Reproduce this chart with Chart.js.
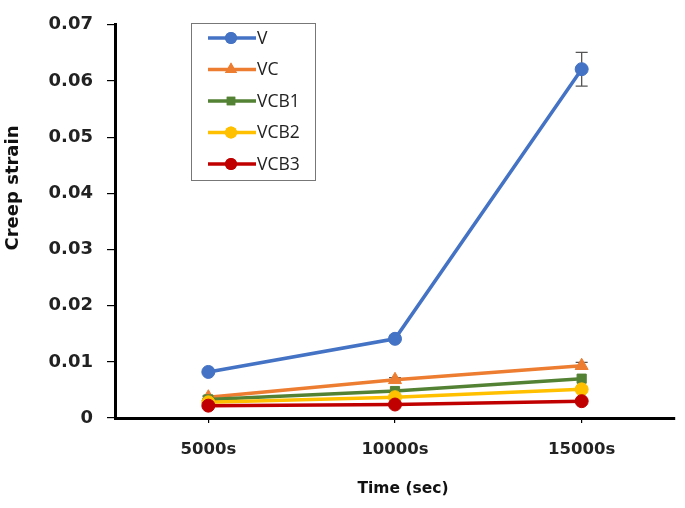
<!DOCTYPE html>
<html>
<head>
<meta charset="utf-8">
<script src="https://cdn.jsdelivr.net/npm/chart.js@4.4.0/dist/chart.umd.min.js"></script>
<style>
  html, body { margin: 0; padding: 0; background: #fff; }
  #wrap { width: 685px; height: 508px; }
</style>
</head>
<body>
<div id="wrap"><canvas id="creepChart"></canvas></div>
<script>
// data
const times = ['5000s', '10000s', '15000s'];
const seriesNames = ['V', 'VC', 'VCB1', 'VCB2', 'VCB3'];
const vValues    = [0.0082, 0.0141, 0.0621];
const vcValues   = [0.0037, 0.0068, 0.0093];
const vcb1Values = [0.0033, 0.0048, 0.0070];
const vcb2Values = [0.0028, 0.0037, 0.0051];
const vcb3Values = [0.0022, 0.0024, 0.0030];
const vErrors    = [0.0003, 0.0003, 0.0030];
const vcErrors   = [0.0002, 0.0004, 0.0006];
const yTicks = [0, 0.01, 0.02, 0.03, 0.04, 0.05, 0.06, 0.07];
const xTitle = 'Time (sec)';
const yTitle = 'Creep strain';

const colors = ['#4472C4', '#ED7D31', '#548235', '#FFC000', '#C00000'];
const markers = ['circle', 'triangle', 'rect', 'circle', 'circle'];
const allValues = [vValues, vcValues, vcb1Values, vcb2Values, vcb3Values];
const allErrors = [vErrors, vcErrors, null, null, null];

const datasets = seriesNames.map((name, i) => ({
    label: name,
    data: allValues[i],
    errors: allErrors[i],
    borderColor: colors[i],
    backgroundColor: colors[i],
    borderWidth: 3.5,
    pointStyle: markers[i],
    pointRadius: markers[i] === 'triangle' ? 7.5 : 6.5,
    pointBorderWidth: 1,
    tension: 0,
    order: 5 - i
}));

// error bars drawn from the scales
const errorBars = {
    id: 'errorBars',
    beforeDatasetsDraw(chart) {
        const ctx = chart.ctx;
        const y = chart.scales.y;
        chart.data.datasets.forEach((ds, di) => {
            if (!ds.errors) return;
            const meta = chart.getDatasetMeta(di);
            meta.data.forEach((pt, j) => {
                const v = ds.data[j];
                const e = ds.errors[j];
                const top = y.getPixelForValue(v + e);
                const bot = y.getPixelForValue(v - e);
                ctx.save();
                ctx.strokeStyle = '#555';
                ctx.lineWidth = 1.3;
                ctx.beginPath();
                ctx.moveTo(pt.x, top); ctx.lineTo(pt.x, bot);
                ctx.moveTo(pt.x - 6, top); ctx.lineTo(pt.x + 6, top);
                ctx.moveTo(pt.x - 6, bot); ctx.lineTo(pt.x + 6, bot);
                ctx.stroke();
                ctx.restore();
            });
        });
    }
};

// axis titles, placed where the original has them (slightly off-centre)
const axisTitles = {
    id: 'axisTitles',
    afterDraw(chart) {
        const ctx = chart.ctx;
        ctx.save();
        ctx.fillStyle = '#111';
        ctx.textAlign = 'center';
        ctx.textBaseline = 'middle';
        ctx.font = 'bold 15.5px "DejaVu Sans", sans-serif';
        ctx.fillText(xTitle, 403, 489);
        ctx.translate(13, 188);
        ctx.rotate(-Math.PI / 2);
        ctx.font = 'bold 18px "DejaVu Sans", sans-serif';
        ctx.fillText(yTitle, 0, 0);
        ctx.restore();
    }
};

// legend box inside the plot, like the original
const boxLegend = {
    id: 'boxLegend',
    afterDraw(chart) {
        const ctx = chart.ctx;
        const bx = 191, by = 23, bw = 124, bh = 157;
        ctx.save();
        ctx.fillStyle = '#fff';
        ctx.fillRect(bx, by, bw, bh);
        ctx.strokeStyle = '#777';
        ctx.lineWidth = 1;
        ctx.strokeRect(bx + 0.5, by + 0.5, bw, bh);
        chart.data.datasets.forEach((ds, i) => {
            const rowY = 38 + i * 31.5;
            ctx.strokeStyle = ds.borderColor;
            ctx.lineWidth = 3.5;
            ctx.beginPath();
            ctx.moveTo(208, rowY);
            ctx.lineTo(256, rowY);
            ctx.stroke();
            ctx.fillStyle = ds.backgroundColor;
            const r = ds.pointStyle === 'triangle' ? 7 : 6;
            Chart.helpers.drawPoint(ctx, {pointStyle: ds.pointStyle, radius: r, borderWidth: 0}, 231, rowY);
            ctx.fill();
            ctx.fillStyle = '#222';
            ctx.font = '17.5px "Open Sans", sans-serif';
            ctx.textBaseline = 'middle';
            ctx.textAlign = 'left';
            ctx.fillText(ds.label, 257, rowY + 1);
        });
        ctx.restore();
    }
};

new Chart(document.getElementById('creepChart'), {
    type: 'line',
    data: { labels: times, datasets: datasets },
    plugins: [errorBars, axisTitles, boxLegend],
    options: {
        responsive: true,
        maintainAspectRatio: false,
        animation: false,
        layout: { padding: { top: 12, right: 10, left: 0, bottom: 0 } },
        plugins: {
            legend: { display: false },
            tooltip: { enabled: false }
        },
        scales: {
            x: {
                offset: true,
                afterFit: s => { s.height = 90; },
                grid: { display: true, drawOnChartArea: false, offset: false, tickLength: 5, color: '#000', lineWidth: 1.2 },
                border: { display: true, color: '#000', width: 3 },
                ticks: { color: '#222', padding: 17, font: { family: 'DejaVu Sans', size: 16.5, weight: 'bold' } }
            },
            y: {
                min: 0,
                max: 0.07,
                afterFit: s => { s.width = 115; },
                afterBuildTicks: s => { s.ticks = yTicks.map(v => ({ value: v })); },
                grid: { display: true, drawOnChartArea: false, tickLength: 8, color: '#000', lineWidth: 1.2 },
                border: { display: true, color: '#000', width: 3 },
                ticks: {
                    color: '#222',
                    padding: 14,
                    font: { family: 'DejaVu Sans', size: 18, weight: 'bold' },
                    callback: v => v === 0 ? '0' : v.toFixed(2)
                }
            }
        }
    }
});
</script>
</body>
</html>
